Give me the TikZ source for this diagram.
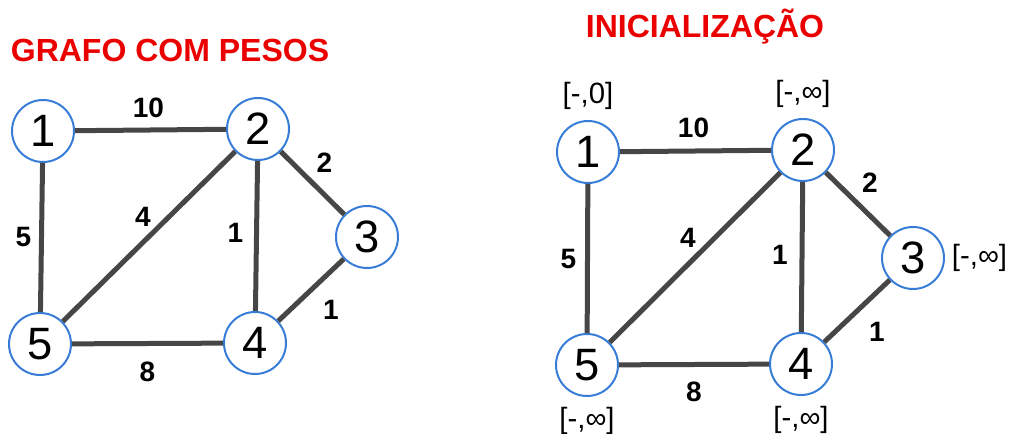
\documentclass[tikz,border=0pt]{standalone}
\usepackage{fontspec}
\setmainfont{Liberation Sans}
\definecolor{nodeblue}{RGB}{55, 125, 215}
\definecolor{edgegray}{RGB}{70, 70, 70}
\definecolor{titlered}{RGB}{235, 0, 0}
\usetikzlibrary{positioning}

\begin{document}
\begin{tikzpicture}[
    x=0.75pt, y=-0.75pt,
    vertex/.style={draw=nodeblue, line width=1.5pt, circle, fill=white,
                   minimum size=46.5pt, inner sep=0pt, font=\fontsize{34}{34}\selectfont},
    edge/.style={draw=edgegray, line width=3.75pt},
    weight/.style={inner sep=0pt, font=\fontsize{21}{21}\selectfont\bfseries},
    dist/.style={inner sep=0pt, font=\fontsize{22}{22}\selectfont},
    title/.style={text=titlered, font=\fontsize{24}{24}\selectfont\bfseries}
]
    \useasboundingbox (0,0) rectangle (1012,434);

    % grafo com pesos
    \node[title] (t1) at (170,50) {GRAFO COM PESOS};
    \node[vertex] (a1) at (43,131) {1};
    \node[vertex] (a2) at (258,129) {2};
    \node[vertex] (a3) at (367,237) {3};
    \node[vertex] (a4) at (255,343) {4};
    \node[vertex] (a5) at (40,344) {5};

    \draw[edge] (a1) -- node[weight, shift={(-2,-22)}] {10} (a2);
    \draw[edge] (a2) -- node[weight, shift={(12,-20)}] {2} (a3);
    \draw[edge] (a2) -- node[weight, shift={(-6,-20)}] {4} (a5);
    \draw[edge] (a2) -- node[weight, shift={(-21,-3)}] {1} (a4);
    \draw[edge] (a1) -- node[weight, shift={(-18,0)}] {5} (a5);
    \draw[edge] (a3) -- node[weight, shift={(20,20)}] {1} (a4);
    \draw[edge] (a5) -- node[weight, shift={(0,28)}] {8} (a4);

    % inicializacao
    \node[title] (t2) at (705,27) {INICIALIZAÇÃO};
    \node[vertex] (b1) at (588,152) {1};
    \node[vertex] (b2) at (803,150) {2};
    \node[vertex] (b3) at (913,258) {3};
    \node[vertex] (b4) at (801,364) {4};
    \node[vertex] (b5) at (587,365) {5};

    \draw[edge] (b1) -- node[weight, shift={(-2,-23)}] {10} (b2);
    \draw[edge] (b2) -- node[weight, shift={(12,-21)}] {2} (b3);
    \draw[edge] (b2) -- node[weight, shift={(-7,-20)}] {4} (b5);
    \draw[edge] (b2) -- node[weight, shift={(-22,-2)}] {1} (b4);
    \draw[edge] (b1) -- node[weight, shift={(-19,1)}] {5} (b5);
    \draw[edge] (b3) -- node[weight, shift={(20,21)}] {1} (b4);
    \draw[edge] (b5) -- node[weight, shift={(0,27)}] {8} (b4);

    \node[dist, above=7.5pt of b1] (d1) {[-,0]};
    \node[dist, above=7.5pt of b2] (d2) {[-,∞]};
    \node[dist, right=5pt of b3] (d3) {[-,∞]};
    \node[dist, below=7.5pt of b4] (d4) {[-,∞]};
    \node[dist, below=7.5pt of b5] (d5) {[-,∞]};
\end{tikzpicture}
\end{document}
